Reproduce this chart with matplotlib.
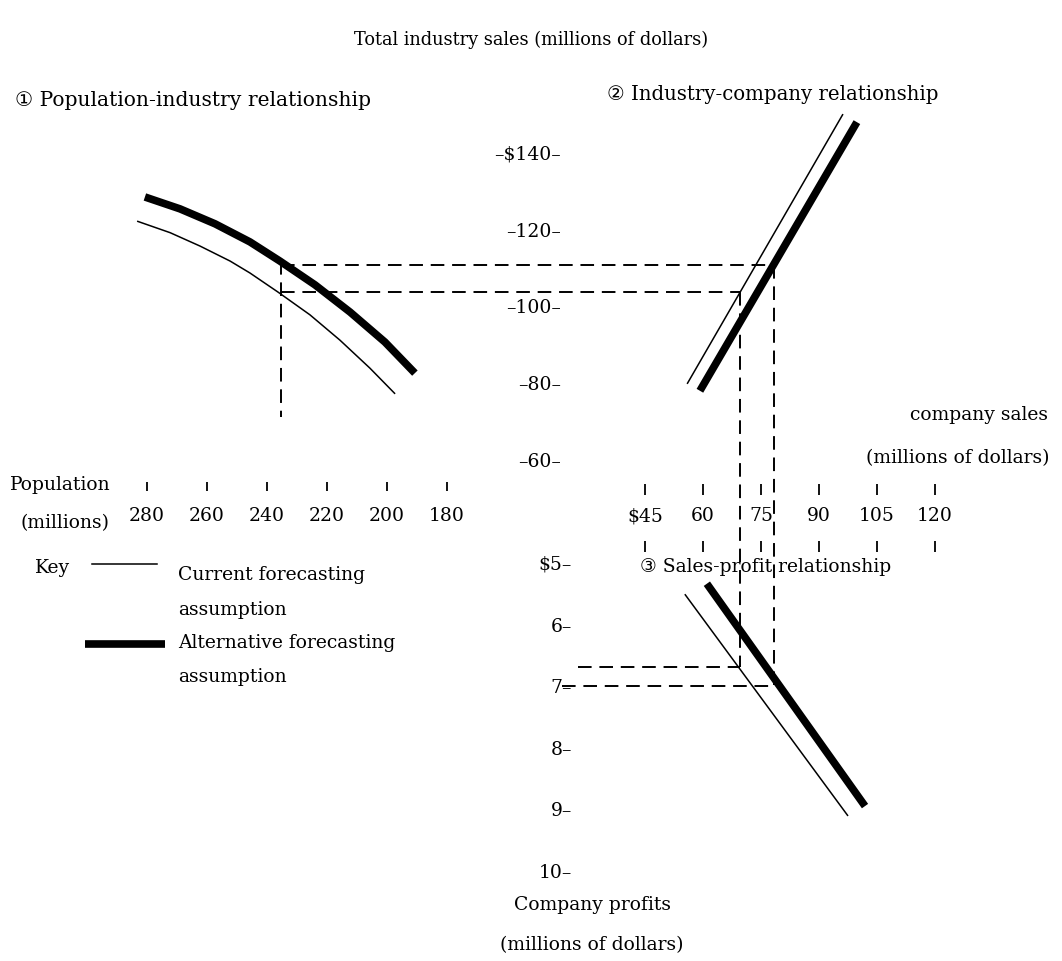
import matplotlib
matplotlib.use("Agg")
import numpy as np
import matplotlib.pyplot as plt
from matplotlib.lines import Line2D
from matplotlib.transforms import blended_transform_factory as blend

# ---------------- data ----------------
pop_ticks = [280, 260, 240, 220, 200, 180]
industry_ticks = [140, 120, 100, 80, 60]
company_ticks = [45, 60, 75, 90, 105, 120]
profit_ticks = [5, 6, 7, 8, 9, 10]

# (1) population-industry relationship (population, industry sales)
pop_current = [283.3, 272.3, 262.3, 252.3, 245.7, 236.3, 225.7, 215.7, 205.7, 197.3]
ind_current = [122.5, 119.5, 116.0, 112.1, 109.0, 104.0, 98.1, 91.5, 84.2, 77.5]
pop_alt = [280.7, 269.0, 257.3, 245.7, 235.7, 224.0, 212.3, 200.7, 190.7]
ind_alt = [128.8, 125.7, 121.8, 117.1, 112.1, 105.9, 98.8, 91.0, 82.9]

# (2) industry-company relationship (company sales, industry sales)
cs_current_q2 = [55.9, 96.2]
ind_current_q2 = [80.1, 150.4]
cs_alt_q2 = [59.2, 99.8]
ind_alt_q2 = [78.3, 148.3]

# (3) sales-profit relationship (company sales, profits)
cs_current_q3 = [55.3, 97.5]
prof_current_q3 = [5.49, 9.09]
cs_alt_q3 = [61.0, 101.9]
prof_alt_q3 = [5.32, 8.93]

# forecast path
fc_pop = 235.5
fc_ind_current, fc_ind_alt = 104.0, 111.1
fc_cs_current, fc_cs_alt = 69.6, 78.4
fc_prof_current, fc_prof_alt = 6.67, 6.98
q1_guide_bottom = 71.5

# ---------------- layout ----------------
W, H, DPI = 1062, 962, 100
plt.rcParams['font.family'] = ['DejaVu Serif', 'DejaVu Sans', 'Noto Sans CJK JP']
FS = 13.5
fig = plt.figure(figsize=(W / DPI, H / DPI), dpi=DPI)


def span(v1, p1, v2, p2, size):
    k = (p2 - p1) / (v2 - v1)
    return v1 - p1 / k, v1 + (size - p1) / k


def fx(px):
    return px / W


def fy(py):
    return 1 - py / H


pop_x = span(280, 147, 180, 447, W)
cs_x = span(45, 645, 120, 935, W)
ind_top, ind_bot = span(140, 155, 60, 462, H)
prof_top, prof_bot = span(5, 565, 10, 873, H)


def make_ax(xl, yl):
    ax = fig.add_axes([0, 0, 1, 1])
    ax.set_xlim(*xl)
    ax.set_ylim(*yl)
    ax.axis('off')
    ax.patch.set_alpha(0)
    return ax


ax1 = make_ax(pop_x, (ind_bot, ind_top))
ax2 = make_ax(cs_x, (ind_bot, ind_top))
ax3 = make_ax(cs_x, (prof_bot, prof_top))


def to_ax(src, dst, x, y):
    return dst.transData.inverted().transform(src.transData.transform((x, y)))


def to_figx(ax, x, y):
    return fig.transFigure.inverted().transform(ax.transData.transform((x, y)))[0]


THIN, THICK = 1.1, 5.5
line_kw = dict(color='black', solid_capstyle='butt', solid_joinstyle='round')
dash_kw = dict(color='black', lw=1.4, dashes=(7, 4))

# relationship lines
ax1.plot(pop_current, ind_current, lw=THIN, **line_kw)
ax1.plot(pop_alt, ind_alt, lw=THICK, **line_kw)
ax2.plot(cs_current_q2, ind_current_q2, lw=THIN, **line_kw)
ax2.plot(cs_alt_q2, ind_alt_q2, lw=THICK, **line_kw)
ax3.plot(cs_current_q3, prof_current_q3, lw=THIN, **line_kw)
ax3.plot(cs_alt_q3, prof_alt_q3, lw=THICK, **line_kw)

# forecast guides
top_q1 = np.interp(fc_pop, pop_alt[::-1], ind_alt[::-1])
ax1.plot([fc_pop, fc_pop], [top_q1, q1_guide_bottom], **dash_kw)
xe = to_ax(ax2, ax1, fc_cs_current, fc_ind_current)[0]
ax1.plot([fc_pop, xe], [fc_ind_current] * 2, **dash_kw)
xe = to_ax(ax2, ax1, fc_cs_alt, fc_ind_alt)[0]
ax1.plot([fc_pop, xe], [fc_ind_alt] * 2, **dash_kw)

ye = to_ax(ax3, ax2, fc_cs_current, fc_prof_current)[1]
ax2.plot([fc_cs_current] * 2, [fc_ind_current, ye], **dash_kw)
ye = to_ax(ax3, ax2, fc_cs_alt, fc_prof_alt)[1]
ax2.plot([fc_cs_alt] * 2, [fc_ind_alt, ye], **dash_kw)

tr_p = blend(fig.transFigure, ax3.transData)
ax3.plot([fx(578), to_figx(ax3, fc_cs_current, fc_prof_current)],
         [fc_prof_current] * 2, transform=tr_p, **dash_kw)
ax3.plot([fx(562), to_figx(ax3, fc_cs_alt, fc_prof_alt)],
         [fc_prof_alt] * 2, transform=tr_p, **dash_kw)

# population axis
tr_pop = blend(ax1.transData, fig.transFigure)
ax1.vlines(pop_ticks, fy(492), fy(483), transform=tr_pop, color='black', lw=1.3)
for p in pop_ticks:
    ax1.text(p, fy(516), str(p), transform=tr_pop, ha='center', va='center', fontsize=FS)

# company sales axis
tr_cs = blend(ax2.transData, fig.transFigure)
ax2.vlines(company_ticks, fy(496), fy(485), transform=tr_cs, color='black', lw=1.3)
ax2.vlines(company_ticks, fy(553), fy(542), transform=tr_cs, color='black', lw=1.3)
for i, c in enumerate(company_ticks):
    lab = f"${c}" if i == 0 else str(c)
    ax2.text(c, fy(516), lab, transform=tr_cs, ha='center', va='center', fontsize=FS)

# industry sales scale
tr_ind = blend(fig.transFigure, ax1.transData)
for i, v in enumerate(industry_ticks):
    lab = f"–${v}–" if i == 0 else f"–{v}–"
    ax1.text(fx(561), v, lab, transform=tr_ind, ha='right', va='center', fontsize=FS)

# profit scale
for i, v in enumerate(profit_ticks):
    lab = f"${v}–" if i == 0 else f"{v}–"
    ax3.text(fx(572), v, lab, transform=tr_p, ha='right', va='center', fontsize=FS)


# texts
def t(px, py, s, ha='left', fs=FS):
    fig.text(fx(px), fy(py), s, ha=ha, va='center', fontsize=fs)


t(531, 40, "Total industry sales (millions of dollars)", 'center', 12.8)
t(15, 100, "① Population-industry relationship", fs=14.6)
t(607, 95, "② Industry-company relationship", fs=14.2)
t(1048, 415, "company sales", 'right')
t(1050, 458, "(millions of dollars)", 'right')
t(10, 485, "Population")
t(20, 523, "(millions)")
t(35, 568, "Key")
t(178, 575, "Current forecasting")
t(178, 610, "assumption")
t(178, 643, "Alternative forecasting")
t(178, 677, "assumption")
t(640, 567, "③ Sales-profit relationship")
t(592, 905, "Company profits", 'center')
t(592, 945, "(millions of dollars)", 'center')

# key lines
fig.add_artist(Line2D([fx(92), fx(157)], [fy(565)] * 2, lw=THIN, color='black'))
fig.add_artist(Line2D([fx(85), fx(165)], [fy(645)] * 2, lw=THICK, color='black',
                      solid_capstyle='butt'))

fig.savefig('out.png', dpi=DPI)
